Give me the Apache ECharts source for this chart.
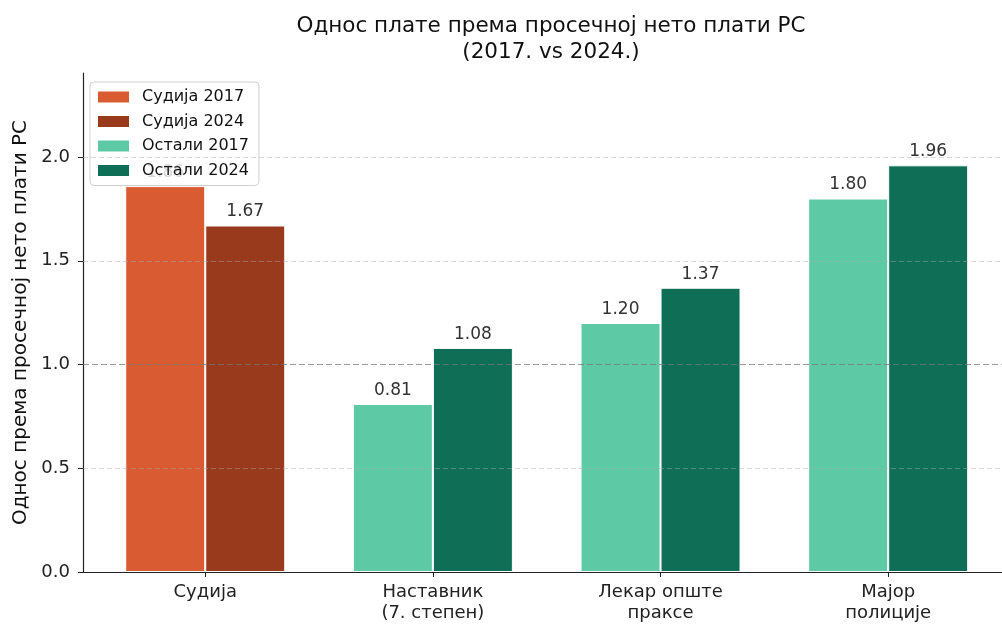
<!DOCTYPE html>
<html>
<head>
<meta charset="utf-8">
<script src="https://cdn.jsdelivr.net/npm/echarts@6/dist/echarts.min.js"></script>
<style>
  html, body { margin: 0; padding: 0; background: #fff; }
  #chart { width: 1002px; height: 624px; }
</style>
</head>
<body>
<div id="chart"></div>
<script>
// categories on the x axis (positions 0..3)
var categories = ["Судија", "Наставник\n(7. степен)", "Лекар опште\nпраксе", "Мајор\nполиције"];
// judge values (only category 0)
var judge2017 = [1.86, null, null, null];
var judge2024 = [1.67, null, null, null];
// other professions
var other2017 = [null, 0.81, 1.20, 1.80];
var other2024 = [null, 1.08, 1.37, 1.96];
var yTicks = [0, 0.5, 1.0, 1.5, 2.0];
var refValue = 1.0;

var colors = {
  judge2017: "#D95B32",
  judge2024: "#993A1D",
  other2017: "#5ECAA5",
  other2024: "#0F6E56"
};

function toPoints(arr) {
  return arr.map(function (v, i) { return [i, v == null ? "-" : v]; });
}

function barSeries(name, arr, color, stack) {
  return {
    name: name,
    type: "bar",
    stack: stack,
    data: toPoints(arr),
    barWidth: 80,
    barGap: "0%",
    itemStyle: { color: color, borderColor: "#fff", borderWidth: 1 },
    label: {
      show: true,
      position: "top",
      distance: 5,
      fontSize: 17,
      color: "#333",
      fontFamily: "DejaVu Sans",
      formatter: function (p) { return p.value[1].toFixed(2); }
    }
  };
}

var chart = echarts.init(document.getElementById("chart"));

var s0 = barSeries("Судија 2017", judge2017, colors.judge2017, "y2017");
s0.markLine = {
  silent: true,
  symbol: "none",
  label: { show: false },
  data: yTicks.filter(function (v) { return v > 0 && v !== refValue; }).map(function (v) {
    return { yAxis: v, lineStyle: { color: "rgba(170,170,170,0.45)", type: [5, 3], width: 1 } };
  }).concat([{ yAxis: refValue, lineStyle: { color: "rgba(120,120,120,0.75)", type: [6, 3], width: 1.2 } }])
};

chart.setOption({
  animation: false,
  textStyle: { fontFamily: "DejaVu Sans" },
  title: {
    text: "Однос плате према просечној нето плати РС\n(2017. vs 2024.)",
    left: 546,
    top: 8,
    textAlign: "center",
    textStyle: { fontSize: 21.5, fontWeight: "normal", color: "#111", lineHeight: 26, fontFamily: "DejaVu Sans" }
  },
  legend: {
    orient: "vertical",
    left: 90,
    top: 82,
    itemWidth: 33,
    itemHeight: 13,
    itemGap: 8.5,
    padding: [7, 10, 7, 6],
    borderColor: "#d0d0d0",
    borderWidth: 1,
    borderRadius: 4,
    backgroundColor: "rgba(255,255,255,0.8)",
    icon: "rect",
    textStyle: { fontSize: 16, lineHeight: 16, color: "#111", fontFamily: "DejaVu Sans", padding: [0, 0, 0, 7] },
    data: ["Судија 2017", "Судија 2024", "Остали 2017", "Остали 2024"]
  },
  grid: { left: 83, top: 73, bottom: 52, right: 0 },
  xAxis: {
    type: "value",
    min: -0.537,
    max: 3.5,
    axisLine: { show: true, onZero: false, lineStyle: { color: "#222", width: 1.2 } },
    axisTick: { show: true, length: 5, customValues: [0, 1, 2, 3], lineStyle: { color: "#222" } },
    axisLabel: {
      customValues: [0, 1, 2, 3],
      formatter: function (v) { return categories[Math.round(v)]; },
      fontSize: 18,
      lineHeight: 21,
      color: "#222",
      margin: 10
    },
    splitLine: { show: false }
  },
  yAxis: {
    type: "value",
    min: 0,
    max: 2.405,
    name: "Однос према просечној нето плати РС",
    nameLocation: "middle",
    nameRotate: 90,
    nameGap: 51,
    nameTextStyle: { fontSize: 20, color: "#111" },
    axisLine: { show: true, onZero: false, lineStyle: { color: "#222", width: 1.2 } },
    axisTick: { show: true, length: 5, customValues: yTicks, lineStyle: { color: "#222" } },
    axisLabel: {
      customValues: yTicks,
      formatter: function (v) { return v.toFixed(1); },
      fontSize: 18,
      color: "#222",
      margin: 13
    },
    splitLine: { show: false }
  },
  series: [
    s0,
    barSeries("Судија 2024", judge2024, colors.judge2024, "y2024"),
    barSeries("Остали 2017", other2017, colors.other2017, "y2017"),
    barSeries("Остали 2024", other2024, colors.other2024, "y2024")
  ]
});
</script>
</body>
</html>
